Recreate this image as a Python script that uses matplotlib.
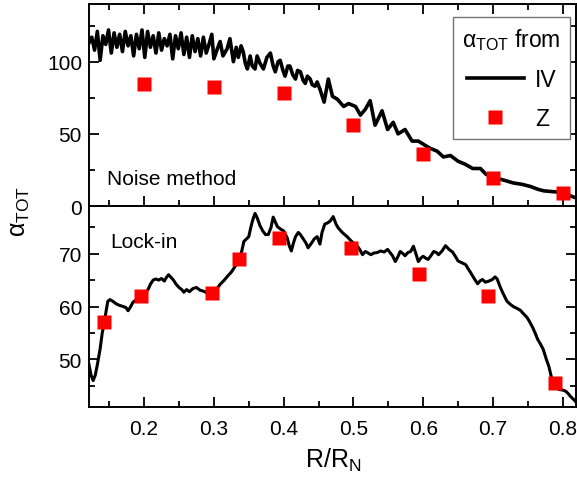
import matplotlib
matplotlib.use("Agg")
import matplotlib.pyplot as plt

# Noise method (top) and lock-in (bottom) alpha_TOT vs R/RN

plt.rcParams['font.family'] = ['Liberation Sans', 'DejaVu Sans']
plt.rcParams['mathtext.fontset'] = 'custom'
plt.rcParams['mathtext.rm'] = 'Liberation Sans'
plt.rcParams['mathtext.it'] = 'Liberation Sans'

# IV curve, noise method panel
iv_top_x = [0.121, 0.125, 0.129, 0.133, 0.137, 0.141, 0.145, 0.149, 0.153, 0.157,
            0.161, 0.165, 0.169, 0.173, 0.177, 0.181, 0.185, 0.189, 0.193, 0.197,
            0.201, 0.205, 0.209, 0.213, 0.217, 0.221, 0.225, 0.229, 0.233, 0.237,
            0.241, 0.245, 0.249, 0.253, 0.257, 0.261, 0.265, 0.269, 0.273, 0.277,
            0.281, 0.285, 0.289, 0.293, 0.297, 0.300, 0.305, 0.309, 0.313, 0.319,
            0.323, 0.328, 0.332, 0.335, 0.339, 0.342, 0.345, 0.348, 0.352, 0.355,
            0.359, 0.362, 0.366, 0.371, 0.376, 0.381, 0.385, 0.388, 0.392, 0.395,
            0.399, 0.402, 0.406, 0.409, 0.413, 0.417, 0.420, 0.424, 0.428, 0.431,
            0.434, 0.438, 0.441, 0.445, 0.448, 0.452,
            0.458, 0.464, 0.470, 0.477, 0.486, 0.493, 0.503, 0.510, 0.517, 0.524,
            0.531, 0.541, 0.549, 0.557, 0.564, 0.574, 0.584, 0.593, 0.603, 0.610,
            0.620, 0.629, 0.639, 0.650, 0.660, 0.671, 0.682, 0.690, 0.700, 0.715,
            0.729, 0.742, 0.754, 0.765, 0.773, 0.785, 0.797, 0.805, 0.811, 0.820]
iv_top_y = [113, 117, 108, 121, 101, 118, 112, 122, 106, 120,
            110, 119, 107, 121, 111, 118, 104, 119, 109, 122,
            103, 121, 110, 118, 106, 120, 108, 116, 111, 119,
            102, 118, 109, 120, 105, 117, 103, 118, 107, 116,
            104, 117, 106, 112, 119, 102, 109, 114, 104, 109,
            116, 100, 110, 103, 111, 107, 99, 95, 104, 97,
            95, 104, 99, 95, 103, 106, 97, 93, 100, 101,
            94, 90, 97, 97, 91, 88, 94, 93, 87, 85,
            90, 88, 84, 83, 86, 81,
            72, 88, 76, 74, 69, 71, 69, 63, 67, 73,
            56, 66, 53, 58, 50, 53, 45, 45, 42, 40,
            38, 34, 35, 31, 29, 26, 26, 22, 20, 18,
            16, 15, 13.5, 11.5, 10.5, 10, 9.5, 8.5, 7, 5.5]

# IV curve, lock-in panel
iv_bot_x = [0.121, 0.124, 0.127, 0.130, 0.133, 0.137, 0.140, 0.143, 0.146, 0.148,
            0.151, 0.155, 0.160, 0.165, 0.170, 0.174, 0.177, 0.180, 0.184, 0.188,
            0.192, 0.196, 0.202, 0.206, 0.209, 0.213, 0.217, 0.221, 0.225, 0.229,
            0.232, 0.235, 0.238, 0.242, 0.246, 0.250, 0.254, 0.257, 0.261, 0.265,
            0.270, 0.275, 0.280, 0.285, 0.290, 0.298, 0.304, 0.309, 0.315, 0.320,
            0.325, 0.330, 0.336, 0.340, 0.343, 0.347, 0.350, 0.353, 0.356, 0.359,
            0.362, 0.366, 0.370, 0.374, 0.378, 0.382, 0.385, 0.388, 0.391, 0.396,
            0.400, 0.405, 0.408, 0.411, 0.414, 0.417, 0.421, 0.424, 0.428, 0.432,
            0.435, 0.440, 0.444, 0.448, 0.452, 0.455, 0.459, 0.463, 0.467, 0.471,
            0.475, 0.478, 0.484, 0.491, 0.496, 0.500, 0.505, 0.509, 0.513, 0.517,
            0.520, 0.525, 0.529, 0.534, 0.539, 0.544, 0.549, 0.553, 0.556, 0.560,
            0.564, 0.567, 0.571, 0.574, 0.578, 0.582, 0.586, 0.589, 0.593, 0.597,
            0.600, 0.604, 0.607, 0.611, 0.615, 0.619, 0.622, 0.627, 0.632, 0.637,
            0.642, 0.646, 0.650, 0.655, 0.661, 0.665, 0.668, 0.673, 0.678, 0.682,
            0.685, 0.689, 0.694, 0.699, 0.703, 0.706, 0.710, 0.714, 0.720, 0.725,
            0.729, 0.735, 0.739, 0.744, 0.749, 0.753, 0.757, 0.761, 0.764, 0.768,
            0.772, 0.776, 0.780, 0.784, 0.787, 0.791, 0.795, 0.800, 0.804, 0.808,
            0.811, 0.815, 0.820]
iv_bot_y = [49, 47, 46, 47, 49, 52, 55, 57, 59.5, 61,
            61.3, 61, 60.5, 60.2, 60, 59.8, 59.2, 59.8, 60.8, 61.2,
            61.5, 62, 62.6, 63.3, 64.2, 65, 65.2, 65, 65.3, 64.8,
            65.5, 66, 65.6, 65, 64.2, 63.6, 63.2, 62.7, 63.2, 62.8,
            63.4, 63.6, 63.1, 62.9, 62.6, 62.6, 63.3, 64.2, 65, 65.8,
            66.5, 67.5, 68.9, 70.5, 72.3, 72.8, 73.2, 75, 76.5, 77.6,
            76.8, 75.3, 74.3, 73.6, 73.6, 75, 76.9, 76, 75.1, 74.6,
            74.3, 73, 71.5, 70.5, 72, 73.2, 74, 73.6, 72.8, 72,
            71.1, 72, 72.8, 73.2, 71.8, 74, 75.6, 75.8, 76.2, 77,
            75.6, 74.9, 74, 73.2, 72.5, 72, 71.5, 70.8, 69.8, 70.4,
            70.2, 69.8, 70.1, 70.2, 70.5, 70.3, 70.8, 70.1, 69.6, 68.5,
            69.5, 70.4, 70, 69.6, 70.2, 70.4, 71.4, 70.2, 68.5, 69.2,
            69.5, 69.1, 68.9, 69.6, 70.4, 70.2, 69.8, 70.5, 71.5, 70.8,
            70.3, 69.5, 68.6, 68.3, 67.9, 67, 66.4, 65.3, 64.3, 64.9,
            65.1, 64.6, 64.8, 65.1, 65.6, 65.2, 63.8, 62.6, 61, 60.4,
            60, 59.6, 59.3, 58.6, 57.9, 57, 56, 54.8, 53.8, 52.9,
            51.9, 50.2, 48.7, 46.5, 45, 44.6, 44.3, 44.2, 44, 43.5,
            43, 42.5, 41.8]

# Z points
z_top_x = [0.2, 0.3, 0.4, 0.5, 0.6, 0.7, 0.8]
z_top_y = [84.5, 82.5, 78.5, 56, 36, 19.5, 9]
z_bot_x = [0.143, 0.196, 0.298, 0.336, 0.394, 0.497, 0.594, 0.693, 0.789]
z_bot_y = [57, 61.9, 62.5, 68.9, 72.9, 71, 66.1, 61.9, 45.6]

fig = plt.figure(figsize=(5.77, 4.81), dpi=100)
ax1 = fig.add_axes([0.1542, 0.5696, 0.8441, 0.42])
ax2 = fig.add_axes([0.1542, 0.1518, 0.8441, 0.4178])

ax1.plot(iv_top_x, iv_top_y, color='black', lw=2.6, solid_joinstyle='round',
         label='IV')
ax1.plot(z_top_x, z_top_y, 's', color='#ff0000', ms=9.5, mec='none', label='Z')
ax2.plot(iv_bot_x, iv_bot_y, color='black', lw=2.2, solid_joinstyle='round')
ax2.plot(z_bot_x, z_bot_y, 's', color='#ff0000', ms=9.5, mec='none')

for ax in (ax1, ax2):
    ax.set_xlim(0.121, 0.819)
    ax.set_xticks([0.2, 0.3, 0.4, 0.5, 0.6, 0.7, 0.8])
    ax.set_xticks([0.15, 0.25, 0.35, 0.45, 0.55, 0.65, 0.75], minor=True)
    for s in ax.spines.values():
        s.set_linewidth(1.4)
    ax.tick_params(which='both', direction='in', width=1.3, labelsize=15)
    ax.tick_params(which='major', length=7)
    ax.tick_params(which='minor', length=4)
    ax.tick_params(axis='y', pad=5)
    ax.tick_params(axis='x', pad=9)

ax1.set_ylim(0, 140)
ax1.set_yticks([0, 50, 100])
ax1.set_yticks([25, 75, 125], minor=True)
ax1.tick_params(which='both', top=True, right=True, labelbottom=False)

ax2.set_ylim(41, 79)
ax2.set_yticks([50, 60, 70])
ax2.set_yticks([45, 55, 65, 75], minor=True)
ax2.tick_params(which='both', top=False, right=True)

ax1.text(0.147, 15.3, 'Noise method', fontsize=15)
ax2.text(0.151, 71.3, 'Lock-in', fontsize=15)

leg = ax1.legend(title=r'$\alpha_{\mathrm{TOT}}$ from', loc='upper right',
                 bbox_to_anchor=(0.988, 0.935), borderaxespad=0, fontsize=16.5,
                 title_fontsize=16.5, frameon=True, fancybox=False, framealpha=1,
                 edgecolor='0.45', handlelength=2.5, handletextpad=0.5,
                 labelspacing=0.7, borderpad=0.4)
leg.get_frame().set_linewidth(1.0)

fig.text(0.035, 0.56, r'$\alpha_{\mathrm{TOT}}$', rotation=90, fontsize=18,
         ha='center', va='center')
fig.text(0.578, 0.043, r'R/R$_{\mathrm{N}}$', fontsize=18, ha='center', va='center')

fig.savefig('out.png', dpi=100)
